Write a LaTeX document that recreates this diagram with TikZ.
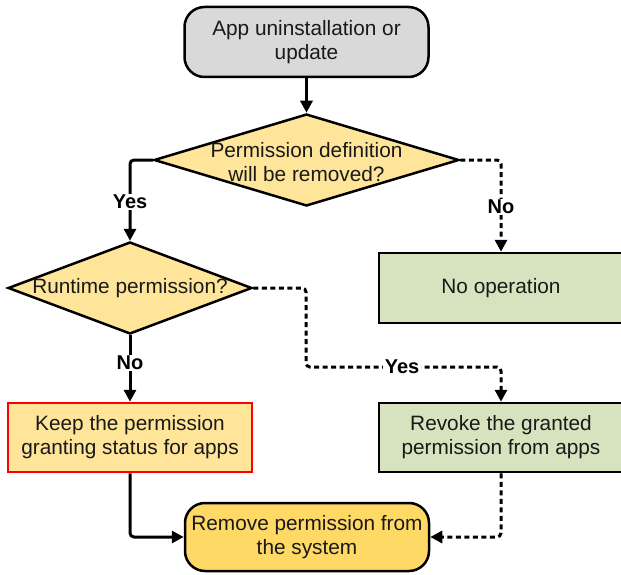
\documentclass[tikz,border=0pt]{standalone}
\usepackage{fontspec}
\setmainfont{Liberation Sans}
\usetikzlibrary{shapes.geometric,arrows.meta}
\definecolor{cgray}{HTML}{D9D9D9}
\definecolor{cyel}{HTML}{FFE599}
\definecolor{cgreen}{HTML}{D7E3BF}
\definecolor{corange}{HTML}{FFD966}
\definecolor{cred}{HTML}{FF0000}
\begin{document}
\begin{tikzpicture}[x=1pt,y=-1pt,
  txt/.style={font=\fontsize{20.8}{24}\selectfont,align=center,text=black!90},
  box/.style={txt,draw=black,line width=2.5pt,minimum width=244pt,minimum height=70pt,inner sep=0pt},
  rbox/.style={box,rounded corners=20pt},
  dia/.style={diamond,draw=black,line width=2.5pt,fill=cyel,inner sep=0pt},
  conn/.style={line width=3pt,rounded corners=4pt,-{Triangle[length=12pt,width=12pt]}},
  dconn/.style={conn,dash pattern=on 5pt off 3.5pt},
  lab/.style={font=\fontsize{20}{22}\selectfont\bfseries,fill=white,inner sep=1.5pt}]
\useasboundingbox (0,0) rectangle (621,575);
\node[rbox,fill=cgray] (top) at (306.5,42) {App uninstallation or\\update};
\node[dia,minimum width=305pt,minimum height=92pt] (d1) at (306.5,160) {};
\node[txt] (d1t) at (306.5,162) {Permission definition\\will be removed?};
\node[dia,minimum width=244pt,minimum height=92pt] (d2) at (130,288) {};
\node[txt] (d2t) at (d2) {Runtime permission?};
\node[box,fill=cgreen] (noop) at (501,288) {No operation};
\node[box,fill=cyel,draw=cred,minimum height=69pt] (keep) at (130,437.5) {Keep the permission\\granting status for apps};
\node[box,fill=cgreen,minimum height=69pt] (revoke) at (501,437.5) {Revoke the granted\\permission from apps};
\node[rbox,fill=corange,minimum height=68pt] (remove) at (307,537) {Remove permission from\\the system};
\coordinate (j1) at (306,367);
\draw[conn] (top) -- (d1);
\draw[conn] (d1.west) -| (d2.north);
\node[lab] (ly1) at (130,202) {Yes};
\draw[dconn] (d1.east) -| (noop.north);
\node[lab] (ln1) at (501,207) {No};
\draw[conn] (d2.south) -- (keep.north);
\node[lab] (ln2) at (130,363) {No};
\draw[dconn] (d2.east) -| (j1) -| (revoke.north);
\node[lab] (ly2) at (402,367) {Yes};
\draw[conn] (keep.south) |- (remove.west);
\draw[dconn] (revoke.south) |- (remove.east);
\end{tikzpicture}
\end{document}
